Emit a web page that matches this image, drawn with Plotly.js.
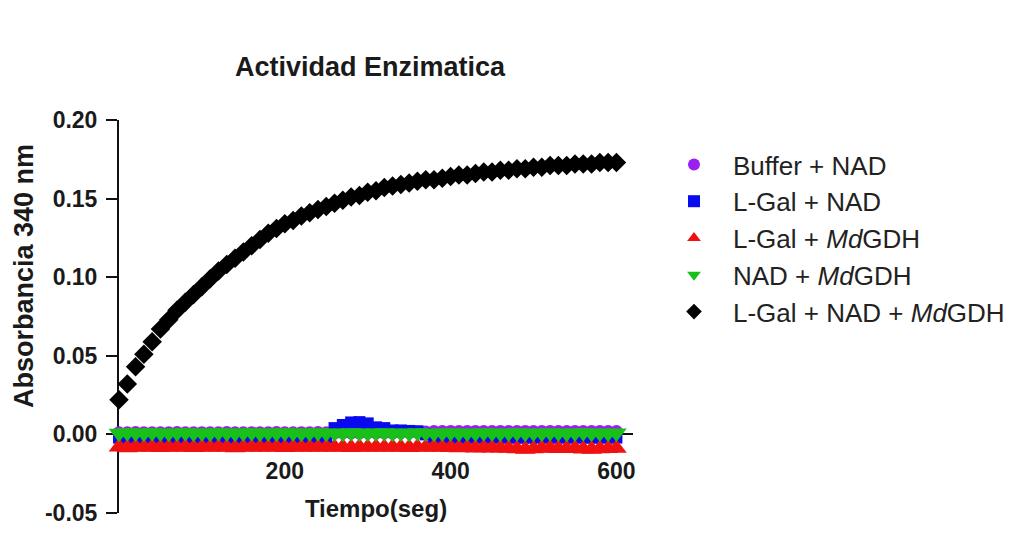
<!DOCTYPE html>
<html>
<head>
<meta charset="utf-8">
<script src="https://cdn.plot.ly/plotly-3.0.1.min.js"></script>
<style>html,body{margin:0;padding:0;background:#fff;}#chart{width:1031px;height:543px;}</style>
</head>
<body>
<div id="chart"></div>
<script>
// Time points (seconds)
const time = [0,10,20,30,40,50,60,70,80,90,
  100,110,120,130,140,150,160,170,180,190,
  200,210,220,230,240,250,260,270,280,290,
  300,310,320,330,340,350,360,370,380,390,
  400,410,420,430,440,450,460,470,480,490,
  500,510,520,530,540,550,560,570,580,590,
  600];

// Buffer + NAD
const bufferNad = [0.001,0.001,0.0012,0.001,0.0011,0.001,0.001,0.0012,0.001,0.001,
  0.0011,0.001,0.001,0.0012,0.001,0.001,0.0011,0.001,0.001,0.0012,
  0.001,0.001,0.0011,0.001,0.0012,0.001,0.001,0.0011,0.001,0.001,
  0.0012,0.001,0.0011,0.001,0.0012,0.0013,0.0014,0.0015,0.0018,0.0018,
  0.0019,0.0018,0.0018,0.0019,0.0018,0.0018,0.0019,0.0018,0.0018,0.0019,
  0.0018,0.0018,0.0019,0.0018,0.0018,0.0019,0.0018,0.0018,0.0019,0.0018,
  0.0018];

// L-Gal + NAD
const lgalNad = [-0.002,-0.002,-0.002,-0.002,-0.002,-0.002,-0.002,-0.002,-0.002,-0.002,
  -0.002,-0.002,-0.002,-0.002,-0.002,-0.002,-0.002,-0.002,-0.002,-0.002,
  -0.002,-0.002,-0.002,-0.002,-0.002,-0.002,0.004,0.006,0.0076,0.0078,
  0.007,0.0045,0.004,0.0025,0.0025,0.0022,0.002,0.0,-0.002,-0.002,
  -0.002,-0.002,-0.002,-0.002,-0.002,-0.002,-0.002,-0.002,-0.002,-0.002,
  -0.002,-0.002,-0.002,-0.002,-0.002,-0.002,-0.002,-0.002,-0.002,-0.002,
  -0.002];

// L-Gal + MdGDH
const lgalMd = [-0.008,-0.0085,-0.008,-0.0082,-0.008,-0.0083,-0.008,-0.0081,-0.008,-0.0084,
  -0.008,-0.0082,-0.008,-0.0081,-0.0085,-0.008,-0.0082,-0.008,-0.0081,-0.008,
  -0.0083,-0.008,-0.0081,-0.008,-0.0082,-0.008,-0.0081,-0.008,-0.0083,-0.008,
  -0.0081,-0.008,-0.0082,-0.008,-0.0081,-0.0084,-0.008,-0.0082,-0.008,-0.0081,
  -0.0083,-0.0085,-0.0084,-0.0086,-0.0085,-0.0087,-0.0086,-0.0088,-0.0092,-0.0094,
  -0.0091,-0.0088,-0.0087,-0.0089,-0.009,-0.0088,-0.0093,-0.0095,-0.0092,-0.009,
  -0.0088];

// NAD + MdGDH
const nadMd = [0.0008,0.001,0.0009,0.0008,0.001,0.0009,0.0008,0.0009,0.001,0.0008,
  0.0009,0.0008,0.001,0.0009,0.0008,0.0009,0.001,0.0008,0.0009,0.0008,
  0.001,0.0009,0.0008,0.0009,0.001,0.0008,0.0009,0.0008,0.001,0.0009,
  0.0008,0.0009,0.001,0.0008,0.0009,0.0008,0.001,0.0009,0.0008,0.0009,
  0.001,0.0008,0.0009,0.0008,0.001,0.0009,0.0008,0.0009,0.001,0.0008,
  0.0009,0.0008,0.001,0.0009,0.0008,0.0009,0.001,0.0008,0.0009,0.0008,
  0.0009];

// L-Gal + NAD + MdGDH
const lgalNadMd = [0.022,0.032,0.043,0.051,0.059,0.067,0.073,0.079,0.084,0.089,
  0.094,0.099,0.104,0.108,0.112,0.116,0.120,0.124,0.128,0.131,
  0.134,0.136,0.139,0.141,0.143,0.145,0.147,0.149,0.151,0.152,
  0.154,0.155,0.157,0.158,0.159,0.160,0.161,0.162,0.162,0.163,
  0.164,0.165,0.165,0.166,0.167,0.167,0.168,0.168,0.169,0.169,
  0.170,0.170,0.171,0.171,0.171,0.172,0.172,0.172,0.173,0.173,
  0.173];

const seriesNames = ['Buffer + NAD','L-Gal + NAD','L-Gal + <i>Md</i>GDH','NAD + <i>Md</i>GDH','L-Gal + NAD + <i>Md</i>GDH'];
const seriesValues = [bufferNad, lgalNad, lgalMd, nadMd, lgalNadMd];
const seriesColors = ['#9b1ff0','#0a0af0','#f01010','#18c018','#000000'];
const seriesSymbols = ['circle','square','triangle-up','triangle-down','diamond'];
const seriesSizes = [13,12,18,18,15];

const xTickVals = [200,400,600];
const xTickText = ['200','400','600'];
const yTickVals = [-0.05,0,0.05,0.10,0.15,0.20];
const yTickText = ['-0.05','0.00','0.05','0.10','0.15','0.20'];

const FONT = 'Liberation Sans, Arial, Helvetica, sans-serif';
const INK = '#1a1a1a';

const traces = seriesValues.map((vals, i) => ({
  type: 'scatter', mode: 'markers', x: time, y: vals, name: seriesNames[i],
  cliponaxis: false,
  marker: {symbol: seriesSymbols[i], size: seriesSizes[i], color: seriesColors[i], line: {width: 0}}
}));

const layout = {
  width: 1031, height: 543,
  paper_bgcolor: '#ffffff', plot_bgcolor: '#ffffff',
  margin: {l: 119, r: 398, t: 120, b: 30},
  font: {family: FONT, color: INK},
  showlegend: true,
  title: {
    text: 'Actividad Enzimatica',
    font: {family: FONT, size: 27, weight: 'bold', color: INK},
    xref: 'container', yref: 'container', x: 370/1031, y: 1 - 67/543,
    xanchor: 'center', yanchor: 'middle'
  },
  xaxis: {
    range: [0, 620], anchor: 'free', position: 0.2,
    showline: true, linecolor: '#111', linewidth: 2,
    ticks: 'outside', ticklen: 8, tickwidth: 2, tickcolor: '#111',
    tickmode: 'array', tickvals: xTickVals, ticktext: xTickText,
    tickfont: {family: FONT, size: 23, weight: 'bold', color: INK},
    ticklabelstandoff: 8,
    showgrid: false, zeroline: false, layer: 'below traces',
    title: {text: 'Tiempo(seg)', font: {family: FONT, size: 24, weight: 'bold', color: INK}, standoff: 16}
  },
  yaxis: {
    range: [-0.05, 0.20],
    showline: true, linecolor: '#111', linewidth: 2,
    ticks: 'outside', ticklen: 11, tickwidth: 2, tickcolor: '#111',
    tickmode: 'array', tickvals: yTickVals, ticktext: yTickText,
    tickfont: {family: FONT, size: 23, weight: 'bold', color: INK},
    ticklabelstandoff: 4,
    showgrid: false, zeroline: false, layer: 'below traces'
  },
  annotations: [{
    text: 'Absorbancia 340 nm', textangle: -90, showarrow: false,
    xref: 'paper', yref: 'paper', x: (24 - 119)/514, y: (513 - 276)/393,
    xanchor: 'center', yanchor: 'middle',
    font: {family: FONT, size: 27, weight: 'bold', color: INK}
  }],
  legend: {
    xref: 'container', yref: 'container', x: 655/1031, y: 1 - 141/543,
    xanchor: 'left', yanchor: 'top',
    font: {family: FONT, size: 26, color: '#222'},
    itemwidth: 68, itemsizing: 'constant', bgcolor: 'rgba(0,0,0,0)', borderwidth: 0
  }
};

Plotly.newPlot('chart', traces, layout, {displayModeBar: false, staticPlot: true});
</script>
</body>
</html>
